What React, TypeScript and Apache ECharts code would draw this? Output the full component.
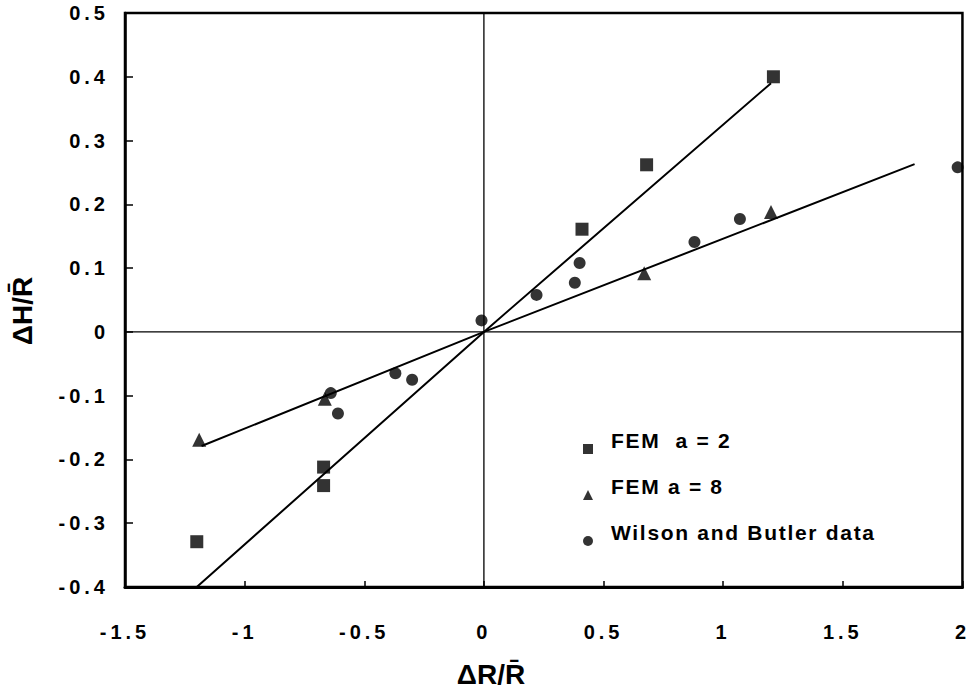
import React, { useEffect, useRef } from "react";
import * as echarts from "echarts";

// FEM results for two values of a, plus measured data (ΔR/R̄, ΔH/R̄)
const femA2: [number, number][] = [
  [-1.2, -0.329],
  [-0.67, -0.212],
  [-0.67, -0.241],
  [0.41, 0.161],
  [0.68, 0.262],
  [1.21, 0.4],
];
const femA8: [number, number][] = [
  [-1.19, -0.169],
  [-0.665, -0.105],
  [0.67, 0.092],
  [1.2, 0.188],
];
const wilsonButler: [number, number][] = [
  [-0.64, -0.096],
  [-0.61, -0.128],
  [-0.37, -0.065],
  [-0.3, -0.075],
  [-0.01, 0.018],
  [0.22, 0.058],
  [0.38, 0.077],
  [0.4, 0.108],
  [0.88, 0.141],
  [1.07, 0.177],
  [1.98, 0.258],
];
// fitted trend lines through the origin
const lineA2: [number, number][] = [
  [-1.2, -0.4],
  [0, 0],
  [1.2, 0.39],
];
const lineA8: [number, number][] = [
  [-1.18, -0.179],
  [0, 0],
  [1.8, 0.263],
];
// zero reference lines
const zeroV: [number, number][] = [
  [0, -0.4],
  [0, 0.5],
];
const zeroH: [number, number][] = [
  [-1.5, 0],
  [2, 0],
];

const legendNames = ["FEM  a = 2", "FEM a = 8", "Wilson and Butler data"];

// legend keys sit a little below their text: an empty move-to at the top
// stretches each icon's box so the visible shape lands in its lower part
const legendIcons = [
  "path://M0,0 M0,17 L10,17 L10,27 L0,27 Z",
  "path://M0,0 M5,17 L10,27 L0,27 Z",
  "path://M0,0 M0,22 A5,5 0 1,0 10,22 A5,5 0 1,0 0,22 Z",
];

const fmt = (v: number) => String(Math.round(v * 10) / 10);

export default function App() {
  const ref = useRef<HTMLDivElement>(null);

  useEffect(() => {
    if (!ref.current) return;
    const chart = echarts.init(ref.current, undefined, { renderer: "svg" });
    const font = "'Liberation Sans', Arial, Helvetica, sans-serif";
    const lineSeries = (data: [number, number][], width: number) => ({
      type: "line",
      data,
      showSymbol: false,
      symbol: "none",
      silent: true,
      lineStyle: { color: "#000", width },
      z: 1,
    });
    chart.setOption({
      animation: false,
      backgroundColor: "#fff",
      grid: {
        left: 125,
        right: 5,
        top: 13,
        bottom: 103,
        show: true,
        borderColor: "#000",
        borderWidth: 2.5,
      },
      xAxis: {
        type: "value",
        min: -1.5,
        max: 2,
        interval: 0.5,
        axisLine: { onZero: false, lineStyle: { color: "#000", width: 3 } },
        axisTick: { inside: true, length: 6, lineStyle: { color: "#000", width: 1.5 } },
        splitLine: { show: false },
        axisLabel: {
          formatter: fmt,
          color: "#000",
          fontSize: 20,
          fontWeight: "bold",
          fontFamily: font,
          margin: 35,
        },
      },
      yAxis: {
        type: "value",
        min: -0.4,
        max: 0.5,
        interval: 0.1,
        axisLine: { onZero: false, lineStyle: { color: "#000", width: 2.5 } },
        axisTick: { inside: true, length: 8, lineStyle: { color: "#000", width: 1.5 } },
        splitLine: { show: false },
        axisLabel: {
          formatter: fmt,
          color: "#000",
          fontSize: 20,
          fontWeight: "bold",
          fontFamily: font,
          margin: 16,
        },
      },
      legend: {
        orient: "vertical",
        left: 578,
        top: 422,
        itemWidth: 10,
        itemHeight: 27,
        itemGap: 19,
        data: legendNames.map((name, i) => ({ name, icon: legendIcons[i] })),
        textStyle: {
          color: "#000",
          fontSize: 21,
          fontWeight: "bold",
          fontFamily: font,
          padding: [0, 0, 0, 13],
        },
      },
      graphic: [
        {
          type: "text",
          x: 491,
          y: 674,
          style: {
            text: "ΔR/R̄",
            font: `bold 28px ${font}`,
            fill: "#000",
            align: "center",
            verticalAlign: "middle",
          },
        },
        {
          type: "text",
          x: 22,
          y: 311,
          rotation: Math.PI / 2,
          style: {
            text: "ΔH/R̄",
            font: `bold 28px ${font}`,
            fill: "#000",
            align: "center",
            verticalAlign: "middle",
          },
        },
      ],
      series: [
        lineSeries(zeroV, 1.3),
        lineSeries(zeroH, 1.3),
        lineSeries(lineA2, 2),
        lineSeries(lineA8, 2),
        {
          name: legendNames[0],
          type: "scatter",
          data: femA2,
          symbol: "rect",
          symbolSize: 13,
          itemStyle: { color: "#000" },
          z: 3,
        },
        {
          name: legendNames[1],
          type: "scatter",
          data: femA8,
          symbol: "triangle",
          symbolSize: 14,
          itemStyle: { color: "#000" },
          z: 3,
        },
        {
          name: legendNames[2],
          type: "scatter",
          data: wilsonButler,
          symbol: "circle",
          symbolSize: 12,
          itemStyle: { color: "#000" },
          z: 3,
        },
      ],
    });
    return () => chart.dispose();
  }, []);

  return (
    <>
      <style>{`
        .plot svg text[style*="20px"] { letter-spacing: 4px; }
        .plot svg text[style*="21px"] { letter-spacing: 1.7px; }
      `}</style>
      <div
        className="plot"
        ref={ref}
        style={{ position: "fixed", left: 0, top: 0, width: 971, height: 690, background: "#fff" }}
      />
    </>
  );
}
